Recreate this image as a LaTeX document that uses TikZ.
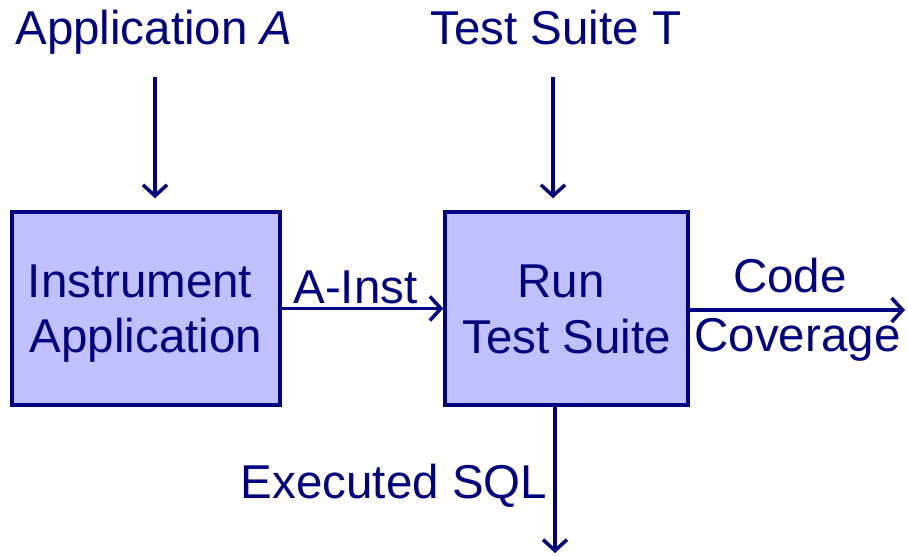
\documentclass[tikz,border=0pt]{standalone}
\usepackage{fontspec}
\setmainfont{Liberation Sans}
\usetikzlibrary{arrows.meta}
\definecolor{navy}{RGB}{0,0,128}
\definecolor{boxfill}{RGB}{192,192,255}
\begin{document}
\begin{tikzpicture}[x=1pt,y=-1pt,
  txt/.style={text=navy,font=\fontsize{47.5}{57}\selectfont,inner sep=0pt,anchor=base},
  procbox/.style={draw=navy,fill=boxfill,line width=3.5pt,inner sep=0pt},
  flow/.style={draw=navy,line width=3.5pt,-{Straight Barb[length=11pt,width=24pt,line width=3.5pt]}}]
  \useasboundingbox (0,0) rectangle (908,556);

  % process boxes
  \node[procbox,minimum width=268pt,minimum height=193pt] (instr) at (146,308.5) {};
  \node[procbox,minimum width=243pt,minimum height=193pt] (run) at (566.5,308.5) {};

  % box labels
  \node[txt] (instrA) at (140,298) {Instrument};
  \node[txt] (instrB) at (146,352) {Application};
  \node[txt] (runA) at (561,298) {Run};
  \node[txt] (runB) at (566.5,353) {Test Suite};

  % inputs
  \node[txt] (appA) at (154,45) {Application \textit{A}};
  \node[txt] (suiteT) at (556,45) {Test Suite T};
  \coordinate (appIn) at (155,77);
  \coordinate (suiteIn) at (553,77);
  \draw[flow,shorten >=12pt] (appIn) -- (appIn |- instr.north);
  \draw[flow,shorten >=12pt] (suiteIn) -- (suiteIn |- run.north);

  % instrumented application into test run
  \draw[flow] (instr.east) -- (run.west);
  \node[txt] (ainst) at (355.5,303) {A-Inst};

  % outputs
  \coordinate (covOut) at (905,310);
  \draw[flow] (run.east |- covOut) -- (covOut);
  \node[txt] (code) at (790,293) {Code};
  \node[txt] (cover) at (797.5,351) {Coverage};

  \coordinate (sqlOut) at (555,553);
  \draw[flow] (sqlOut |- run.south) -- (sqlOut);
  \node[txt] (sql) at (394,498) {Executed SQL};
\end{tikzpicture}
\end{document}
